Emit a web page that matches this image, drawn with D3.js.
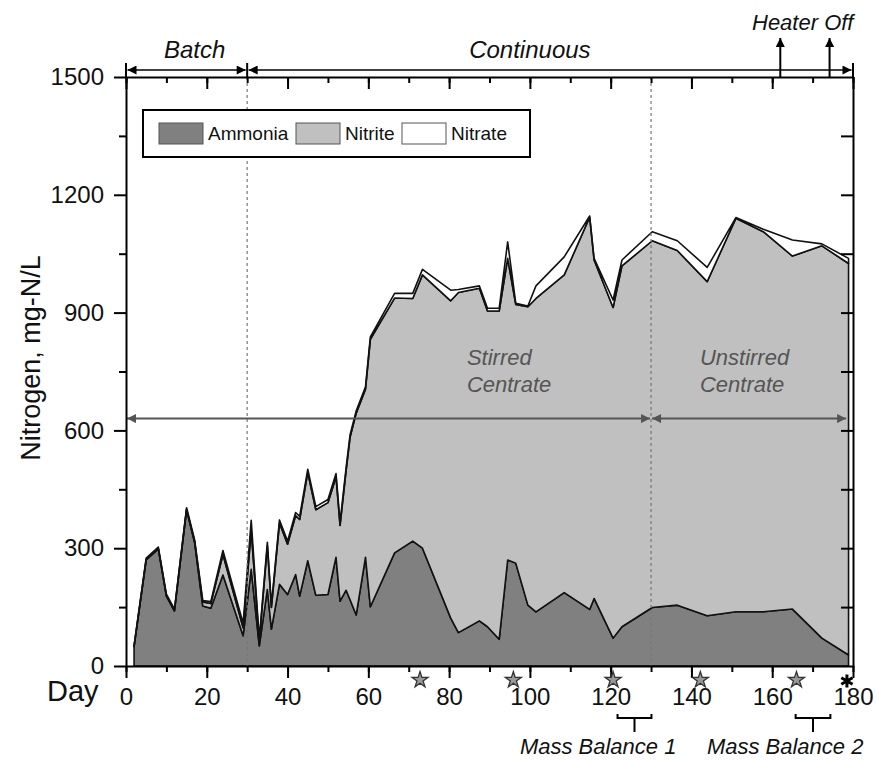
<!DOCTYPE html>
<html>
<head>
<meta charset="utf-8">
<script src="https://cdn.jsdelivr.net/npm/d3@7.9.0/dist/d3.min.js"></script>
<style>
  body { margin: 0; background: #fff; }
  svg { display: block; font-family: "Liberation Sans", Arial, sans-serif; }
  .axis path, .axis line { stroke: #000; stroke-width: 2; }
  .axis text { font-size: 24px; fill: #111; }
  .note { font-style: italic; fill: #111; }
</style>
</head>
<body>
<svg id="chart" width="879" height="760"></svg>
<script>
// sampling days and nitrogen species, mg-N/L (stacked)
const days = [2, 5, 8, 10, 12, 15, 17, 19, 21, 24, 29, 31, 33, 35, 36, 38, 40, 42, 43, 45,
  47, 50, 52, 53, 54.5, 55.5, 57, 59.3, 60.5, 66.5, 71, 73.4, 80.4, 82.3, 87.5, 89.5, 92.4,
  94.5, 96.5, 99.5, 101.5, 108.5, 114.8, 115.9, 120.6, 122.8, 130.3, 136.5, 143.9, 151,
  157.8, 165, 172.3, 178.9];
const ammonia = [50, 270, 298, 178, 140, 398, 314, 153, 147, 232, 77, 246, 51, 195, 94, 208,
  182, 233, 178, 268, 180, 182, 277, 165, 193, 168, 130, 277, 151, 288, 318, 300, 122, 85,
  115, 100, 68, 270, 262, 155, 138, 187, 144, 172, 71, 100, 149, 155, 128, 138, 138, 145,
  71, 28];
const nitrite = [0, 2, 2, 2, 2, 2, 3, 10, 12, 52, 20, 100, 12, 112, 55, 156, 128, 150, 195,
  225, 218, 234, 205, 193, 305, 416, 514, 428, 681, 649, 618, 696, 808, 866, 847, 804, 836,
  768, 659, 760, 798, 809, 999, 862, 842, 919, 934, 903, 851, 1002, 968, 899, 999, 997];
const nitrate = [2, 3, 3, 3, 3, 3, 4, 4, 5, 10, 12, 25, 6, 8, 6, 8, 8, 8, 8, 8, 8, 8, 8, 8,
  7, 6, 6, 6, 6, 12, 13, 14, 27, 8, 6, 7, 7, 42, 3, 2, 32, 46, 3, 4, 19, 15, 23, 25, 36, 2,
  6, 41, 5, 13];

const species = ['Ammonia', 'Nitrite', 'Nitrate'];
const fills = ['#808080', '#c0c0c0', '#ffffff'];
const xTicks = [0, 20, 40, 60, 80, 100, 120, 140, 160, 180];
const yTicks = [0, 300, 600, 900, 1200, 1500];
const starDays = [72.8, 95.9, 120.6, 142.2, 166];
const asteriskDay = 178.5;
const heaterOffDays = [162, 174.2];
const phaseBreak = 30;     // batch -> continuous
const stirBreak = 130;     // stirred -> unstirred
const massBalances = [{ from: 121.7, to: 130.1, label: 'Mass Balance 1', textAt: 116.9 },
  { from: 165.8, to: 174.4, label: 'Mass Balance 2', textAt: 163.2 }];

const width = 879, height = 760;
const margin = { top: 77, right: 26, bottom: 94, left: 126 };

const svg = d3.select('#chart');

const x = d3.scaleLinear().domain([0, 180]).range([margin.left, width - margin.right]);
const y = d3.scaleLinear().domain([0, 1500]).range([height - margin.bottom, margin.top]);

const defs = svg.append('defs');
function marker(id, color) {
  defs.append('marker')
    .attr('id', id)
    .attr('viewBox', '0 0 10 10')
    .attr('refX', 10).attr('refY', 5)
    .attr('markerUnits', 'userSpaceOnUse')
    .attr('markerWidth', 10).attr('markerHeight', 9)
    .attr('orient', 'auto-start-reverse')
    .append('path')
    .attr('d', 'M0,0 L10,5 L0,10 z')
    .attr('fill', color);
}
marker('arrowBlack', '#000');
marker('arrowGray', '#555');

// stacked areas
const rows = days.map((d, i) => ({
  day: d, Ammonia: ammonia[i], Nitrite: nitrite[i], Nitrate: nitrate[i],
}));
const series = d3.stack().keys(species)(rows);

const area = d3.area()
  .x(d => x(d.data.day))
  .y0(d => y(d[0]))
  .y1(d => y(d[1]));

svg.append('g')
  .selectAll('path')
  .data(series)
  .join('path')
  .attr('d', area)
  .attr('fill', (d, i) => fills[i])
  .attr('stroke', '#111')
  .attr('stroke-width', 1.6)
  .attr('stroke-linejoin', 'round');

// dashed phase dividers
svg.append('g')
  .selectAll('line')
  .data([phaseBreak, stirBreak])
  .join('line')
  .attr('x1', d => x(d)).attr('x2', d => x(d))
  .attr('y1', y(1500)).attr('y2', y(0))
  .attr('stroke', '#777')
  .attr('stroke-width', 1.2)
  .attr('stroke-dasharray', '3,3');

// stirred / unstirred arrows
const midY = y(630);
svg.append('line')
  .attr('x1', x(0) + 1).attr('x2', x(stirBreak) - 1)
  .attr('y1', midY).attr('y2', midY)
  .attr('stroke', '#555').attr('stroke-width', 2)
  .attr('marker-start', 'url(#arrowGray)')
  .attr('marker-end', 'url(#arrowGray)');
svg.append('line')
  .attr('x1', x(stirBreak) + 1).attr('x2', x(178.3))
  .attr('y1', midY).attr('y2', midY)
  .attr('stroke', '#555').attr('stroke-width', 2)
  .attr('marker-start', 'url(#arrowGray)')
  .attr('marker-end', 'url(#arrowGray)');

const noteText = [
  { lines: ['Stirred', 'Centrate'], day: 84.4 },
  { lines: ['Unstirred', 'Centrate'], day: 142.1 },
];
noteText.forEach(n => {
  const t = svg.append('text')
    .attr('class', 'note')
    .attr('x', x(n.day)).attr('y', 365)
    .attr('font-size', 22)
    .style('fill', '#555');
  n.lines.forEach((l, i) => {
    t.append('tspan').attr('x', x(n.day)).attr('dy', i ? 27 : 0).text(l);
  });
});

// legend
const legend = svg.append('g').attr('transform', 'translate(143,110)');
legend.append('rect')
  .attr('width', 387).attr('height', 47)
  .attr('fill', '#fff').attr('stroke', '#000').attr('stroke-width', 2);
const legendX = [16, 153, 259];
species.forEach((s, i) => {
  legend.append('rect')
    .attr('x', legendX[i]).attr('y', 13)
    .attr('width', 44).attr('height', 21)
    .attr('fill', fills[i]).attr('stroke', '#555').attr('stroke-width', 1);
  legend.append('text')
    .attr('x', legendX[i] + 49).attr('y', 30)
    .attr('font-size', 19).attr('fill', '#111')
    .text(s);
});

// axes
function minorTicks(step) {
  return d3.range(0, 181, step);
}
svg.append('g').attr('class', 'axis')
  .attr('transform', `translate(0,${y(0)})`)
  .call(d3.axisBottom(x).tickValues(minorTicks(10)).tickSize(6).tickFormat(''))
  .call(g => g.select('.domain').remove());
svg.append('g').attr('class', 'axis')
  .attr('transform', `translate(0,${y(0)})`)
  .call(d3.axisBottom(x).tickValues(xTicks).tickSize(12).tickPadding(10).tickSizeOuter(0));

svg.append('g').attr('class', 'axis')
  .attr('transform', `translate(0,${y(1500)})`)
  .call(d3.axisBottom(x).tickValues(minorTicks(10)).tickSize(6).tickFormat(''))
  .call(g => g.select('.domain').remove());
svg.append('g').attr('class', 'axis')
  .attr('transform', `translate(0,${y(1500)})`)
  .call(d3.axisBottom(x).tickValues(xTicks).tickSize(12).tickFormat('').tickSizeOuter(0));

svg.append('g').attr('class', 'axis')
  .attr('transform', `translate(${x(0)},0)`)
  .call(d3.axisLeft(y).tickValues(d3.range(150, 1500, 300)).tickSize(7).tickFormat(''))
  .call(g => g.select('.domain').remove());
svg.append('g').attr('class', 'axis')
  .attr('transform', `translate(${x(0)},0)`)
  .call(d3.axisLeft(y).tickValues(yTicks).tickSize(12).tickPadding(10).tickSizeOuter(0)
    .tickFormat(d3.format('d')));

svg.append('g').attr('class', 'axis')
  .attr('transform', `translate(${x(180)},0)`)
  .call(d3.axisRight(y).tickValues(d3.range(150, 1500, 150)).tickSize(-12)
    .tickFormat('').tickSizeOuter(0));

// axis titles
svg.append('text')
  .attr('transform', `translate(40,358) rotate(-90)`)
  .attr('text-anchor', 'middle')
  .attr('font-size', 27).attr('fill', '#111')
  .text('Nitrogen, mg-N/L');
svg.append('text')
  .attr('x', 47).attr('y', 701)
  .attr('font-size', 29).attr('fill', '#111')
  .text('Day');

// markers along the day axis
svg.append('g')
  .selectAll('path')
  .data(starDays)
  .join('path')
  .attr('transform', d => `translate(${x(d)},680)`)
  .attr('d', d3.symbol(d3.symbolStar, 80))
  .attr('fill', '#999').attr('stroke', '#333').attr('stroke-width', 1.3);
svg.append('path')
  .attr('transform', `translate(${x(asteriskDay)},681)`)
  .attr('d', d3.symbol(d3.symbolAsterisk, 120))
  .attr('fill', 'none').attr('stroke', '#000').attr('stroke-width', 3);

// mass balance brackets
massBalances.forEach(m => {
  const cx = (x(m.from) + x(m.to)) / 2;
  svg.append('path')
    .attr('d', `M${x(m.from)},714 V718 H${x(m.to)} V714 M${cx},718 V732`)
    .attr('fill', 'none').attr('stroke', '#000').attr('stroke-width', 2);
  svg.append('text')
    .attr('class', 'note')
    .attr('x', x(m.textAt)).attr('y', 754)
    .attr('text-anchor', 'middle')
    .attr('font-size', 22)
    .text(m.label);
});

// batch / continuous arrows on top
const topY = 70;
svg.append('g')
  .selectAll('line')
  .data([0, phaseBreak, 180])
  .join('line')
  .attr('x1', d => x(d)).attr('x2', d => x(d))
  .attr('y1', 63).attr('y2', y(1500))
  .attr('stroke', '#000').attr('stroke-width', 2);
[[0, phaseBreak], [phaseBreak, 180]].forEach(([a, b]) => {
  svg.append('line')
    .attr('x1', x(a) + 1.5).attr('x2', x(b) - 1.5)
    .attr('y1', topY).attr('y2', topY)
    .attr('stroke', '#000').attr('stroke-width', 1.6)
    .attr('marker-start', 'url(#arrowBlack)')
    .attr('marker-end', 'url(#arrowBlack)');
});
svg.append('text').attr('class', 'note')
  .attr('x', x(17)).attr('y', 58).attr('text-anchor', 'middle')
  .attr('font-size', 24).text('Batch');
svg.append('text').attr('class', 'note')
  .attr('x', x(100)).attr('y', 58).attr('text-anchor', 'middle')
  .attr('font-size', 24).text('Continuous');

// heater off
svg.append('g')
  .selectAll('line')
  .data(heaterOffDays)
  .join('line')
  .attr('x1', d => x(d)).attr('x2', d => x(d))
  .attr('y1', y(1500)).attr('y2', 38)
  .attr('stroke', '#000').attr('stroke-width', 2)
  .attr('marker-end', 'url(#arrowBlack)');
svg.append('text').attr('class', 'note')
  .attr('x', 752).attr('y', 30)
  .attr('font-size', 22).text('Heater Off');
</script>
</body>
</html>
